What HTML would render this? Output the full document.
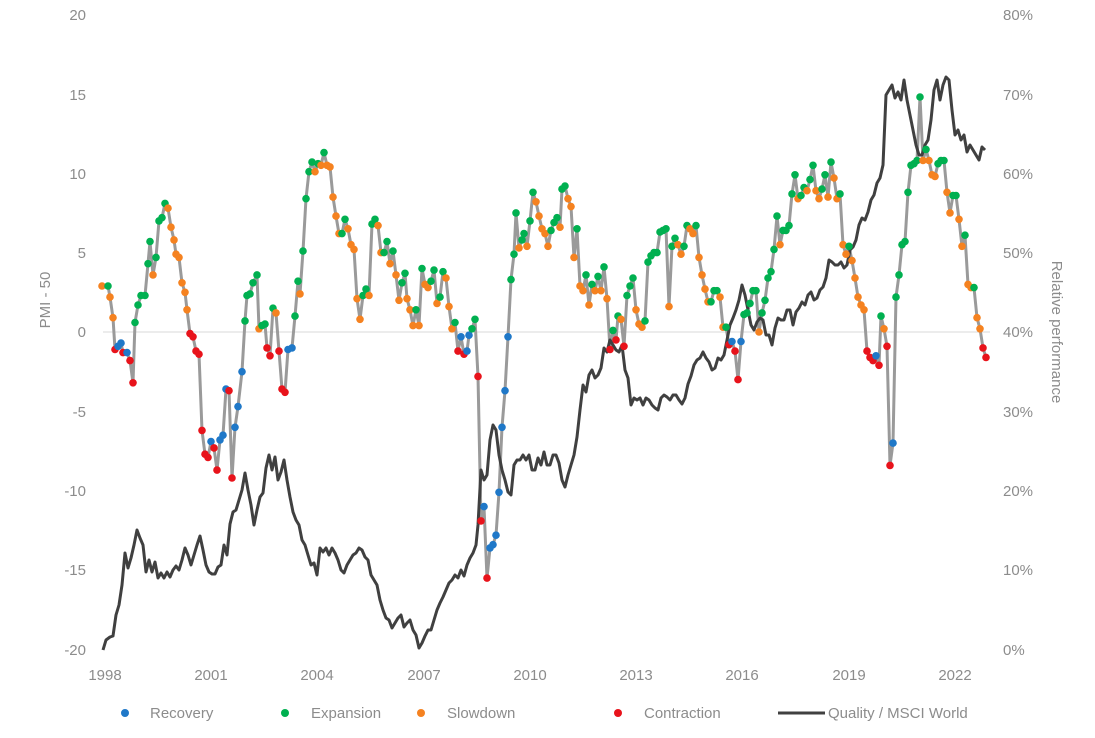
<!DOCTYPE html>
<html><head><meta charset="utf-8"><style>
body{margin:0;background:#fff;}
svg{display:block;font-family:"Liberation Sans",sans-serif;}
.t{fill:#8c8c8c;font-size:15px;}
</style></head><body>
<svg id="s" width="1095" height="738" viewBox="0 0 1095 738" xmlns="http://www.w3.org/2000/svg">
<line x1="103" y1="332" x2="990" y2="332" stroke="#d9d9d9" stroke-width="1"/>
<g class="t" text-anchor="end">
<text x="86" y="20">20</text><text x="86" y="100">15</text><text x="86" y="179">10</text><text x="86" y="258">5</text><text x="86" y="337">0</text><text x="86" y="417">-5</text><text x="86" y="496">-10</text><text x="86" y="575">-15</text><text x="86" y="655">-20</text>
</g>
<g class="t" text-anchor="start">
<text x="1003" y="20">80%</text><text x="1003" y="100">70%</text><text x="1003" y="179">60%</text><text x="1003" y="258">50%</text><text x="1003" y="337">40%</text><text x="1003" y="417">30%</text><text x="1003" y="496">20%</text><text x="1003" y="575">10%</text><text x="1003" y="655">0%</text>
</g>
<g class="t" text-anchor="middle">
<text x="105" y="680">1998</text><text x="211" y="680">2001</text><text x="317" y="680">2004</text><text x="424" y="680">2007</text><text x="530" y="680">2010</text><text x="636" y="680">2013</text><text x="742" y="680">2016</text><text x="849" y="680">2019</text><text x="955" y="680">2022</text>
</g>
<text class="t" transform="translate(50,300) rotate(-90)" text-anchor="middle">PMI - 50</text>
<text class="t" transform="translate(1052,332) rotate(90)" text-anchor="middle">Relative performance</text>
<g id="g"></g>
<g class="t">
<circle cx="125" cy="713" r="4" fill="#1f78c8"/><text x="150" y="718">Recovery</text>
<circle cx="285" cy="713" r="4" fill="#00b050"/><text x="311" y="718">Expansion</text>
<circle cx="421" cy="713" r="4" fill="#f58220"/><text x="447" y="718">Slowdown</text>
<circle cx="618" cy="713" r="4" fill="#e8131b"/><text x="644" y="718">Contraction</text>
<line x1="778" y1="713" x2="825" y2="713" stroke="#404040" stroke-width="3"/><text x="828" y="718">Quality / MSCI World</text>
</g>
</svg>
<script>
var p=[102,2.9,108,2.9,110,2.2,113,0.9,115,-1.1,118,-0.9,121,-0.7,123,-1.3,127,-1.3,130,-1.8,133,-3.2,135,0.6,138,1.7,141,2.3,145,2.3,148,4.3,150,5.7,153,3.6,156,4.7,159,7,162,7.2,165,8.1,168,7.8,171,6.6,174,5.8,176,4.9,179,4.7,182,3.1,185,2.5,187,1.4,190,-0.1,193,-0.3,196,-1.2,199,-1.4,202,-6.2,205,-7.7,208,-7.9,211,-6.9,214,-7.3,217,-8.7,220,-6.8,223,-6.5,226,-3.6,229,-3.7,232,-9.2,235,-6,238,-4.7,242,-2.5,245,0.7,247,2.3,250,2.4,253,3.1,257,3.6,259,0.2,262,0.4,265,0.5,267,-1,270,-1.5,273,1.5,276,1.2,279,-1.2,282,-3.6,285,-3.8,288,-1.1,292,-1,295,1,298,3.2,300,2.4,303,5.1,306,8.4,309,10.1,312,10.7,315,10.1,318,10.6,321,10.5,324,11.3,327,10.5,330,10.4,333,8.5,336,7.3,339,6.2,342,6.2,345,7.1,348,6.5,351,5.5,354,5.2,357,2.1,360,0.8,363,2.3,366,2.7,369,2.3,372,6.8,375,7.1,378,6.7,381,5,384,5,387,5.7,390,4.3,393,5.1,396,3.6,399,2,402,3.1,405,3.7,407,2.1,410,1.4,413,0.4,416,1.4,419,0.4,422,4,425,3,428,2.8,431,3.2,434,3.9,437,1.8,440,2.2,443,3.8,446,3.4,449,1.6,452,0.2,455,0.6,458,-1.2,461,-0.3,464,-1.4,467,-1.2,469,-0.2,472,0.2,475,0.8,478,-2.8,481,-11.9,484,-11,487,-15.5,490,-13.6,493,-13.4,496,-12.8,499,-10.1,502,-6,505,-3.7,508,-0.3,511,3.3,514,4.9,516,7.5,519,5.3,522,5.8,524,6.2,527,5.4,530,7,533,8.8,536,8.2,539,7.3,542,6.5,545,6.2,548,5.4,551,6.4,554,6.9,557,7.2,560,6.6,562,9,565,9.2,568,8.4,571,7.9,574,4.7,577,6.5,580,2.9,583,2.6,586,3.6,589,1.7,592,3,595,2.6,598,3.5,601,2.6,604,4.1,607,2.1,610,-1.1,613,0.1,616,-0.5,618,1,621,0.8,624,-0.9,627,2.3,630,2.9,633,3.4,636,1.4,639,0.5,642,0.3,645,0.7,648,4.4,651,4.8,654,5,657,5,660,6.3,663,6.4,666,6.5,669,1.6,672,5.4,675,5.9,678,5.5,681,4.9,684,5.4,687,6.7,690,6.5,693,6.2,696,6.7,699,4.7,702,3.6,705,2.7,708,1.9,711,1.9,714,2.6,717,2.6,720,2.2,723,0.3,726,0.3,729,-0.8,732,-0.6,735,-1.2,738,-3,741,-0.6,744,1.1,747,1.2,750,1.8,753,2.6,756,2.6,759,0,762,1.2,765,2,768,3.4,771,3.8,774,5.2,777,7.3,780,5.5,783,6.4,786,6.4,789,6.7,792,8.7,795,9.9,798,8.4,801,8.6,804,9.1,807,8.9,810,9.6,813,10.5,816,8.9,819,8.4,822,9,825,9.9,828,8.5,831,10.7,834,9.7,837,8.4,840,8.7,843,5.5,846,4.9,849,5.4,852,4.5,855,3.4,858,2.2,861,1.7,864,1.4,867,-1.2,870,-1.6,873,-1.8,876,-1.5,879,-2.1,881,1,884,0.2,887,-0.9,890,-8.4,893,-7,896,2.2,899,3.6,902,5.5,905,5.7,908,8.8,911,10.5,914,10.6,917,10.8,920,14.8,923,10.8,926,11.5,929,10.8,932,9.9,935,9.8,938,10.6,941,10.8,944,10.8,947,8.8,950,7.5,953,8.6,956,8.6,959,7.1,962,5.4,965,6.1,968,3,971,2.8,974,2.8,977,0.9,980,0.2,983,-1,986,-1.6];
var q=[103,650,106,640,110,637,113,636,116,615,119,605,122,585,125,553,128,568,131,558,134,545,137,530,140,538,143,545,146,572,149,560,152,572,155,562,158,578,161,573,164,578,167,572,170,577,173,570,176,566,179,570,182,560,185,548,188,555,191,565,194,555,197,545,200,536,203,550,206,565,209,572,212,574,215,574,218,567,221,565,224,545,227,555,230,524,233,512,236,510,239,500,242,490,245,473,248,490,251,505,254,525,257,510,260,497,263,493,266,468,269,455,272,470,275,457,278,480,281,472,284,460,287,480,290,497,293,512,296,520,299,525,302,540,305,545,308,555,311,565,314,563,317,575,320,548,323,552,326,548,329,555,332,548,335,553,338,560,341,570,344,573,347,565,350,560,353,555,356,553,359,548,362,550,365,557,368,560,371,575,374,580,377,585,380,600,383,610,386,618,389,620,392,628,395,623,398,618,401,615,404,627,407,623,410,620,413,630,416,635,419,648,422,643,425,636,428,630,431,630,434,620,437,610,440,603,443,597,446,590,449,583,452,580,455,575,458,578,461,570,464,576,467,565,470,558,473,553,476,545,478,525,481,470,484,480,487,475,490,440,493,425,496,430,499,455,502,470,505,480,508,492,511,495,514,465,517,460,520,460,523,455,526,460,529,455,532,470,535,470,538,458,541,465,544,452,547,465,550,465,553,455,556,455,559,463,562,480,565,487,568,475,571,465,574,455,577,437,580,410,583,385,586,392,589,375,592,370,595,378,598,375,601,368,604,348,607,352,610,340,613,345,616,350,619,352,622,345,625,370,628,378,631,405,634,398,637,400,640,398,643,405,646,398,649,400,652,405,655,408,658,410,661,398,664,395,667,397,670,400,673,395,676,395,679,400,682,404,685,398,688,384,691,376,694,365,697,360,700,358,703,352,706,358,709,362,712,370,715,368,718,358,721,360,724,355,727,340,730,325,733,318,736,310,739,300,742,285,745,295,748,310,751,325,754,330,757,322,760,318,763,320,766,335,769,335,772,345,775,328,778,318,781,320,784,320,787,310,790,310,793,325,796,312,799,308,802,302,805,305,808,295,811,292,814,300,817,298,820,290,823,287,826,278,829,260,832,262,835,265,838,265,841,262,844,268,847,265,850,250,853,247,856,240,859,225,862,218,865,220,868,212,871,200,874,195,877,183,880,178,883,165,886,95,889,90,892,85,895,98,898,92,901,100,904,80,907,100,910,115,913,130,916,145,919,155,922,155,925,145,928,140,931,120,934,90,937,80,940,100,943,85,946,77,949,80,952,110,955,135,958,130,961,140,964,135,967,152,970,145,973,150,976,155,979,160,982,147,985,150];
function Y(v){return 332-v*15.875;}
var g=document.getElementById('g'),h='';
var d='';for(var i=0;i<p.length;i+=2)d+=(i?'L':'M')+p[i]+','+Y(p[i+1]).toFixed(1);
h+='<path d="'+d+'" fill="none" stroke="#9a9a9a" stroke-width="3" stroke-linejoin="round"/>';
var e='';for(i=0;i<q.length;i+=2)e+=(i?'L':'M')+q[i]+','+q[i+1];
h+='<path d="'+e+'" fill="none" stroke="#404040" stroke-width="3" stroke-linejoin="round"/>';
for(i=0;i<p.length;i+=2){var v=p[i+1],pv=i?p[i-1]:v,up=v>=pv;var c=v>=0?(up?'#00b050':'#f58220'):(up?'#1f78c8':'#e8131b');if(i==0)c='#f58220';
h+='<circle cx="'+p[i]+'" cy="'+Y(v).toFixed(1)+'" r="3.8" fill="'+c+'"/>';}
g.innerHTML=h;
</script>
</body></html>
